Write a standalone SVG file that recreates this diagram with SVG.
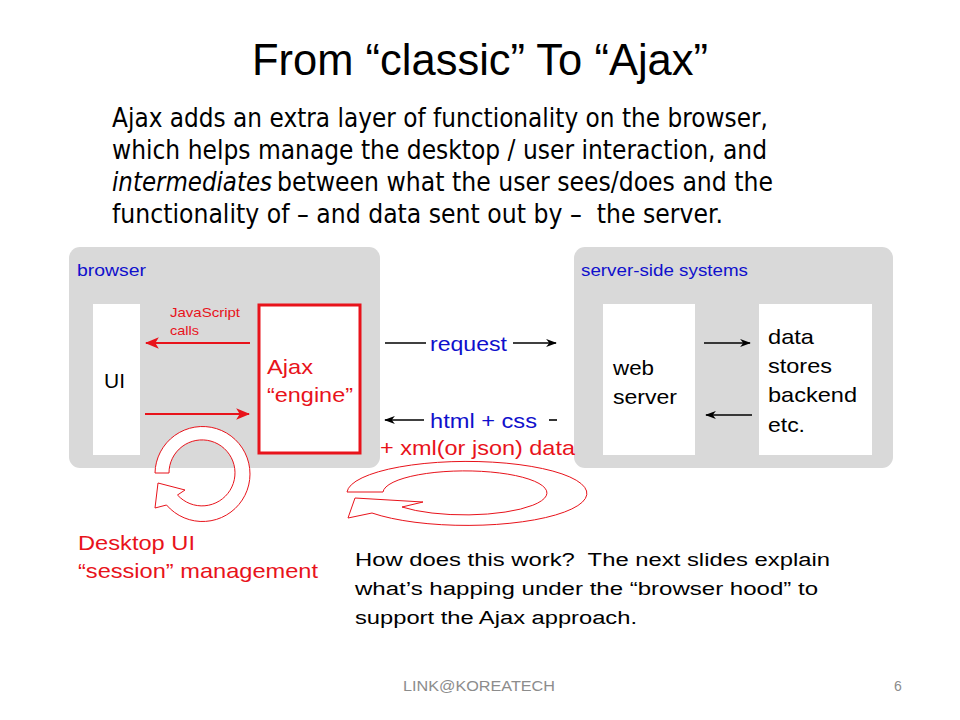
<svg xmlns="http://www.w3.org/2000/svg" width="960" height="720" viewBox="0 0 960 720">
<style>
.sans{font-family:"Liberation Sans",Arial,sans-serif}
.narrow{font-family:"Liberation Sans Narrow","Liberation Sans",Arial,sans-serif}
.tah{font-family:"DejaVu Sans","Liberation Sans",sans-serif}
.panel{fill:#d9d9d9}
.white{fill:#ffffff}
.blue{fill:#1010cc}
.red{fill:#e8131b}
.blk{fill:#000000}
.ln{stroke:#000;stroke-width:1.6;fill:none}
.rln{stroke:#e8131b;stroke-width:2.2;fill:none}
.ring{fill:#ffffff;stroke:#e8131b;stroke-width:1}
</style>
<defs>
<marker id="ah" viewBox="0 0 12 10" refX="11" refY="5" markerWidth="11" markerHeight="9" markerUnits="userSpaceOnUse" orient="auto">
<path d="M0,0.5 L12,5 L0,9.5 L3.5,5 Z" fill="#000"/>
</marker>
<marker id="rah" viewBox="0 0 12 10" refX="11" refY="5" markerWidth="14" markerHeight="12" markerUnits="userSpaceOnUse" orient="auto">
<path d="M0,0 L12,5 L0,10 L3,5 Z" fill="#e8131b"/>
</marker>
</defs>
<rect width="960" height="720" fill="#ffffff"/>
<g id="title">
<text x="252" y="75" class="narrow" font-size="44" textLength="456" lengthAdjust="spacingAndGlyphs">From “classic” To “Ajax”</text>
</g>
<g id="intro" class="tah" font-size="26">
<text x="112" y="127" textLength="656" lengthAdjust="spacingAndGlyphs">Ajax adds an extra layer of functionality on the browser,</text>
<text x="112" y="159" textLength="655" lengthAdjust="spacingAndGlyphs">which helps manage the desktop / user interaction, and</text>
<text x="112" y="191" font-style="italic" textLength="160" lengthAdjust="spacingAndGlyphs">intermediates</text>
<text x="277" y="191" textLength="496" lengthAdjust="spacingAndGlyphs">between what the user sees/does and the</text>
<text x="112" y="223" textLength="611" lengthAdjust="spacingAndGlyphs">functionality of – and data sent out by –&#160; the server.</text>
</g>
<g id="browser">
<rect class="panel" x="69" y="247" width="311" height="221" rx="11"/>
<text x="77" y="276" class="sans blue" font-size="16" textLength="69" lengthAdjust="spacingAndGlyphs">browser</text>
</g>
<g id="server-side">
<rect class="panel" x="574" y="247" width="319" height="221" rx="11"/>
<text x="581" y="276" class="sans blue" font-size="16" textLength="167" lengthAdjust="spacingAndGlyphs">server-side systems</text>
</g>
<g id="ui">
<rect class="white" x="93" y="304" width="47" height="151"/>
<text x="104" y="388" class="sans blk" font-size="21" textLength="21" lengthAdjust="spacingAndGlyphs">UI</text>
</g>
<g id="ajax-engine">
<rect x="259" y="305" width="101" height="148" fill="#fff" stroke="#e8131b" stroke-width="3"/>
<text x="267" y="374" class="sans red" font-size="21" textLength="46" lengthAdjust="spacingAndGlyphs">Ajax</text>
<text x="267" y="402" class="sans red" font-size="21" textLength="86" lengthAdjust="spacingAndGlyphs">“engine”</text>
</g>
<g id="web-server">
<rect class="white" x="603" y="304" width="92" height="151"/>
<text x="613" y="375" class="sans blk" font-size="21" textLength="41" lengthAdjust="spacingAndGlyphs">web</text>
<text x="613" y="404" class="sans blk" font-size="21" textLength="64" lengthAdjust="spacingAndGlyphs">server</text>
</g>
<g id="data-stores">
<rect class="white" x="759" y="304" width="113" height="151"/>
<text x="768" y="344" class="sans blk" font-size="21" textLength="46" lengthAdjust="spacingAndGlyphs">data</text>
<text x="768" y="373" class="sans blk" font-size="21" textLength="64" lengthAdjust="spacingAndGlyphs">stores</text>
<text x="768" y="402" class="sans blk" font-size="21" textLength="89" lengthAdjust="spacingAndGlyphs">backend</text>
<text x="768" y="432" class="sans blk" font-size="21" textLength="37" lengthAdjust="spacingAndGlyphs">etc.</text>
</g>
<g id="desktop-loop">
<path class="ring" d="M155,473 A47.5,47.5 0 1 1 166.5,505 L155,508 L158,483 L185,490 L177.5,495 A33,33 0 1 0 169,473 Z"/>
</g>
<g id="request-loop">
<path class="ring" d="M347,492 A120,32 0 1 1 372,513 L348,518 L355,498 L423,502 L402,507 A82,22 0 1 0 383,492 Z"/>
</g>
<g id="connectors">
<line class="rln" x1="250" y1="343" x2="146" y2="343" marker-end="url(#rah)"/>
<line class="rln" x1="145" y1="414" x2="249" y2="414" marker-end="url(#rah)"/>
<line class="ln" x1="385" y1="343" x2="426" y2="343"/>
<line class="ln" x1="513" y1="343" x2="556" y2="343" marker-end="url(#ah)"/>
<line class="ln" x1="424" y1="420" x2="385" y2="420" marker-end="url(#ah)"/>
<line class="ln" x1="549" y1="420" x2="557" y2="420"/>
<line class="ln" x1="704" y1="343" x2="750" y2="343" marker-end="url(#ah)"/>
<line class="ln" x1="752" y1="415" x2="706" y2="415" marker-end="url(#ah)"/>
<text x="170" y="317" class="sans red" font-size="13" textLength="70" lengthAdjust="spacingAndGlyphs">JavaScript</text>
<text x="170" y="335" class="sans red" font-size="13" textLength="29" lengthAdjust="spacingAndGlyphs">calls</text>
<text x="430" y="351" class="sans blue" font-size="21" textLength="77" lengthAdjust="spacingAndGlyphs">request</text>
<text x="430" y="428" class="sans blue" font-size="21" textLength="107" lengthAdjust="spacingAndGlyphs">html + css</text>
<text x="380" y="455" class="sans red" font-size="21" textLength="195" lengthAdjust="spacingAndGlyphs">+ xml(or json) data</text>
</g>
<g id="notes">
<text x="78" y="550" class="sans red" font-size="21" textLength="117" lengthAdjust="spacingAndGlyphs">Desktop UI</text>
<text x="78" y="578" class="sans red" font-size="21" textLength="240" lengthAdjust="spacingAndGlyphs">“session” management</text>
<text x="355" y="566" class="sans blk" font-size="18" textLength="475" lengthAdjust="spacingAndGlyphs">How does this work?&#160; The next slides explain</text>
<text x="355" y="595" class="sans blk" font-size="18" textLength="463" lengthAdjust="spacingAndGlyphs">what’s happing under the “browser hood” to</text>
<text x="355" y="624" class="sans blk" font-size="18" textLength="282" lengthAdjust="spacingAndGlyphs">support the Ajax approach.</text>
</g>
<g id="footer">
<text x="403" y="691" class="sans" font-size="14" fill="#8c8c8c" textLength="152" lengthAdjust="spacingAndGlyphs">LINK@KOREATECH</text>
<text x="894" y="691" class="sans" font-size="14" fill="#8c8c8c">6</text>
</g>
</svg>
